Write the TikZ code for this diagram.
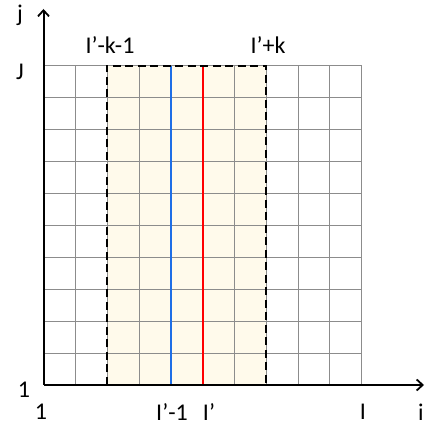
\documentclass[tikz,border=0pt]{standalone}
\usepackage{fontspec}
\setmainfont{Carlito}
\usetikzlibrary{arrows.meta}
\definecolor{beige}{RGB}{255,250,235}
\definecolor{bluel}{RGB}{30,110,230}
\definecolor{gridgray}{RGB}{140,140,140}
\tikzset{
  gridline/.style={draw=gridgray,line width=0.8pt},
  axisline/.style={draw=black,line width=2pt,-{Straight Barb[length=6pt,width=11pt,line width=1.8pt]}},
  window/.style={draw=black,line width=2pt,dash pattern=on 8pt off 4.5pt},
  lbl/.style={font=\fontsize{24}{24}\selectfont,inner sep=0pt}
}
\begin{document}
\begin{tikzpicture}[x=1pt,y=1pt]
\useasboundingbox (0,0) rectangle (429,425);
\def\cw{31.82}
\def\ch{31.93}
\fill[beige] (43.5+2*\cw,40) rectangle (43.5+7*\cw,40+10*\ch);
\foreach \k in {1,...,10} \draw[gridline] (43.5+\k*\cw,40) -- (43.5+\k*\cw,40+10*\ch);
\foreach \k in {1,...,10} \draw[gridline] (43.5,40+\k*\ch) -- (43.5+10*\cw,40+\k*\ch);
\draw[draw=bluel,line width=2.2pt] (43.5+4*\cw,40) -- (43.5+4*\cw,40+10*\ch);
\draw[draw=red,line width=2.2pt] (43.5+5*\cw,40) -- (43.5+5*\cw,40+10*\ch);
\draw[window] (43.5+2*\cw,40) rectangle (43.5+7*\cw,40+10*\ch);
\coordinate (o) at (43.5,40);
\coordinate (xe) at (424,40);
\coordinate (ye) at (43.5,416);
\draw[axisline] (o) -- (xe);
\draw[axisline] (o) -- (ye);
\node[lbl] (lj) at (20,410) {j};
\node[lbl] (lJ) at (20,353) {J};
\node[lbl] (lkm) at (110,380) {I’-k-1};
\node[lbl] (lkp) at (268,380) {I’+k};
\node[lbl] (ly1) at (24,35) {1};
\node[lbl] (lx1) at (41,13) {1};
\node[lbl] (lim) at (172,13) {I’-1};
\node[lbl] (li) at (209,13) {I’};
\node[lbl] (lI) at (363,13) {I};
\node[lbl] (lii) at (421,13) {i};
\end{tikzpicture}
\end{document}
